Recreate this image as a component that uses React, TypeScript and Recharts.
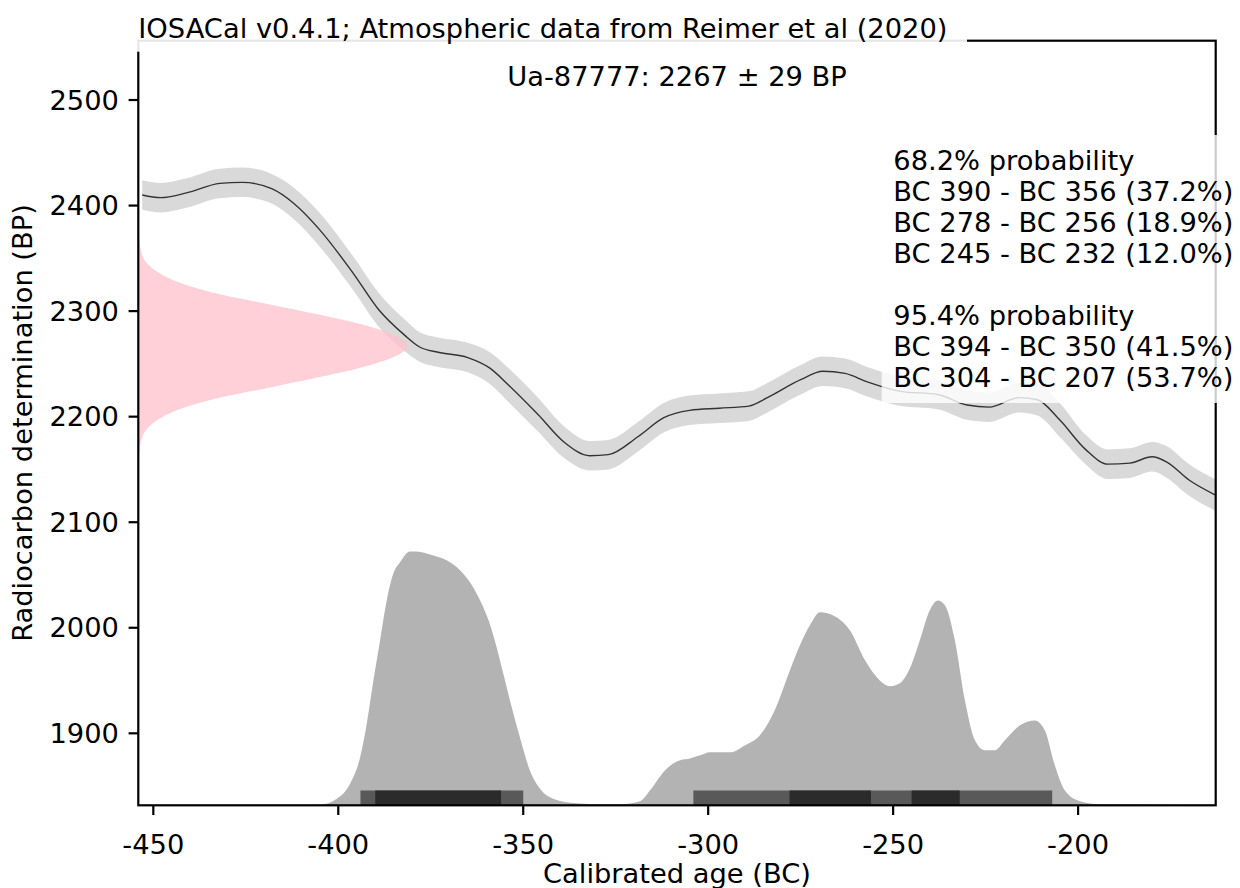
import React from 'react';
import { ComposedChart, Area, Line, XAxis, YAxis, ReferenceArea } from 'recharts';

const W = 1240;
const H = 888;
const FONT = '"DejaVu Sans", sans-serif';
const FS = 27.3;

const PL = 138.3;
const PR = 1215.7;
const PT = 40.7;
const PB = 805.3;

const xDomain = [-454.06, -162.8];
const yDomain = [1831.8, 2556.2];
const xTicks = [-450, -400, -350, -300, -250, -200];
const yTicks = [1900, 2000, 2100, 2200, 2300, 2400, 2500];

// calibration curve (IntCal20)
const calYears = [-453, -448, -441, -432, -426, -418, -412, -405, -396, -389, -382, -378, -373, -365, -359, -354, -346, -339, -332, -327, -319, -312, -305, -297, -289, -284, -275, -269, -263, -257, -248, -238, -230, -224, -216, -211, -205, -198, -192, -186, -180, -176, -170, -163];
const calBP = [2410, 2407.5, 2412, 2421, 2422, 2416, 2402, 2377, 2336, 2301, 2277, 2266, 2261, 2256, 2246, 2230, 2202, 2176, 2163, 2164, 2181, 2199, 2206, 2208, 2210, 2218, 2235, 2243, 2241, 2233, 2224, 2221, 2211, 2209, 2218, 2216, 2197, 2169, 2155, 2156, 2162, 2157, 2140, 2126];
const calSigma = [14, 14, 14, 14, 14, 14, 15, 16, 16, 16, 15, 14, 14, 14, 15, 16, 16, 15, 14, 14, 14, 14, 14, 14, 14, 14, 14, 14, 14, 14, 14, 14, 14, 14, 14, 15, 16, 14, 14, 14, 14, 15, 15, 15];

// calibrated probability (relative, peak = 1)
const probYears = [-411, -405, -400.4, -396.8, -394.1, -392.3, -390.5, -388.7, -386.9, -385.1, -383.3, -380.6, -378.8, -374.3, -370.7, -367.1, -363.5, -360.8, -359, -357.2, -355.4, -353.6, -350.9, -348.2, -345.5, -341.9, -335.6, -329.3, -323.8, -318.4, -315.7, -311.7, -307.6, -304.9, -302.2, -299.5, -294.1, -290.1, -286, -282, -277.9, -275.2, -272.5, -269.8, -265.7, -261.7, -257.6, -253.6, -250.9, -248.2, -245.5, -242.8, -240.1, -237.9, -236, -233.3, -230.6, -227.9, -225.2, -222.5, -219.8, -215.7, -211.7, -209, -206.3, -203.6, -199.5, -194.1, -177.9, -163];
const probValues = [0, 0.002, 0.026, 0.085, 0.188, 0.32, 0.49, 0.647, 0.804, 0.91, 0.954, 0.996, 0.996, 0.98, 0.961, 0.922, 0.855, 0.777, 0.71, 0.62, 0.517, 0.412, 0.267, 0.137, 0.066, 0.026, 0.008, 0.004, 0.004, 0.016, 0.059, 0.137, 0.177, 0.184, 0.196, 0.208, 0.208, 0.235, 0.275, 0.373, 0.53, 0.628, 0.706, 0.757, 0.741, 0.687, 0.569, 0.49, 0.467, 0.479, 0.537, 0.647, 0.765, 0.804, 0.785, 0.647, 0.412, 0.255, 0.216, 0.216, 0.255, 0.314, 0.333, 0.294, 0.157, 0.059, 0.016, 0.004, 0.002, 0];

// radiocarbon determination 2267 ± 29 BP (relative density)
const dateBP = [2160, 2167, 2177, 2187, 2197, 2207, 2217, 2227, 2237, 2247, 2257, 2267, 2277, 2287, 2297, 2307, 2317, 2327, 2337, 2347, 2357, 2367, 2374];
const dateDensity = [0, 0.004, 0.01, 0.027, 0.072, 0.152, 0.285, 0.475, 0.665, 0.835, 0.952, 1, 0.952, 0.835, 0.665, 0.475, 0.285, 0.152, 0.072, 0.027, 0.01, 0.004, 0];

// ranges [from, to]
const ranges95 = [[-394, -350], [-304, -207]];
const ranges68 = [[-390, -356], [-278, -256], [-245, -232]];

const statsLines = [
  '68.2% probability',
  'BC 390 - BC 356 (37.2%)',
  'BC 278 - BC 256 (18.9%)',
  'BC 245 - BC 232 (12.0%)',
  '95.4% probability',
  'BC 394 - BC 350 (41.5%)',
  'BC 304 - BC 207 (53.7%)',
];
const statsBaselines = [170, 201, 232, 263, 325, 356, 386.5];

const calData = calYears.map((year, i) => ({
  year,
  bp: calBP[i],
  band: [calBP[i] - calSigma[i], calBP[i] + calSigma[i]],
}));
const probData = probYears.map((year, i) => ({ year, p: probValues[i] }));
const dateData = dateBP.map((bp, i) => ({ bp, d: dateDensity[i] }));

const tickStyle = { fill: '#000', fontSize: FS, fontFamily: FONT };
const lineStyle = { stroke: '#000', strokeWidth: 2.2 };

export default function App() {
  return (
    <div style={{ position: 'absolute', left: 0, top: 0, width: W, height: H, background: '#fff' }}>
      <ComposedChart
        width={W}
        height={H}
        margin={{ top: PT, right: W - PR, bottom: H - PB - 50, left: PL - 100 }}
        style={{ position: 'absolute', left: 0, top: 0 }}
      >
        <XAxis
          dataKey="year"
          type="number"
          domain={xDomain}
          allowDataOverflow
          ticks={xTicks}
          height={50}
          axisLine={false}
          tickLine={lineStyle}
          tickSize={9.7}
          tickMargin={20}
          tick={tickStyle}
        />
        <YAxis
          type="number"
          domain={yDomain}
          allowDataOverflow
          ticks={yTicks}
          width={100}
          axisLine={false}
          tickLine={lineStyle}
          tickSize={9.7}
          tickMargin={9.7}
          tick={tickStyle}
        />
        <YAxis yAxisId="prob" type="number" domain={[0, 3]} hide allowDataOverflow />
        <Area
          data={calData}
          dataKey="band"
          type="monotone"
          fill="#d9d9d9"
          fillOpacity={1}
          stroke="none"
          isAnimationActive={false}
        />
        <Line
          data={calData}
          dataKey="bp"
          type="monotone"
          stroke="#333"
          strokeWidth={1.4}
          dot={false}
          isAnimationActive={false}
        />
        <Area
          data={probData}
          dataKey="p"
          yAxisId="prob"
          type="monotone"
          baseValue={0}
          fill="#b3b3b3"
          fillOpacity={1}
          stroke="none"
          isAnimationActive={false}
        />
        {ranges95.map(([a, b]) => (
          <ReferenceArea key={'r95' + a} x1={a} x2={b} y1={0} y2={0.058} yAxisId="prob" fill="#595959" fillOpacity={1} stroke="none" ifOverflow="visible" />
        ))}
        {ranges68.map(([a, b]) => (
          <ReferenceArea key={'r68' + a} x1={a} x2={b} y1={0} y2={0.058} yAxisId="prob" fill="#2b2b2b" fillOpacity={1} stroke="none" ifOverflow="visible" />
        ))}
      </ComposedChart>

      <ComposedChart
        layout="vertical"
        width={W}
        height={H}
        data={dateData}
        margin={{ top: PT, right: W - PR, bottom: H - PB, left: PL }}
        style={{ position: 'absolute', left: 0, top: 0, pointerEvents: 'none' }}
      >
        <XAxis type="number" domain={[0, 4]} hide allowDataOverflow />
        <YAxis type="number" dataKey="bp" domain={yDomain} hide allowDataOverflow reversed />
        <Area
          dataKey="d"
          type="monotone"
          fill="#ffc0cb"
          fillOpacity={0.75}
          stroke="none"
          isAnimationActive={false}
        />
      </ComposedChart>

      <svg width={W} height={H} style={{ position: 'absolute', left: 0, top: 0, pointerEvents: 'none' }} fontFamily={FONT} fontSize={FS}>
        <rect x={PL} y={PT} width={PR - PL} height={PB - PT} fill="none" stroke="#000" strokeWidth={2.2} />
        <rect x={124} y={2} width={843} height={49.7} fill="#fff" fillOpacity={0.9} />
        <text x={PL} y={37.5} fill="#000">IOSACal v0.4.1; Atmospheric data from Reimer et al (2020)</text>
        <text x={(PL + PR) / 2} y={86} textAnchor="middle" fill="#000">Ua-87777: 2267 ± 29 BP</text>
        <rect x={881.7} y={135} width={370} height={268} fill="#fff" fillOpacity={0.8} />
        {statsLines.map((s, i) => (
          <text key={s} x={893.3} y={statsBaselines[i]} fill="#000">{s}</text>
        ))}
        <text x={(PL + PR) / 2} y={883} textAnchor="middle" fill="#000">Calibrated age (BC)</text>
        <text transform="rotate(-90)" x={-(PT + PB) / 2} y={32} textAnchor="middle" fill="#000">Radiocarbon determination (BP)</text>
      </svg>
    </div>
  );
}
